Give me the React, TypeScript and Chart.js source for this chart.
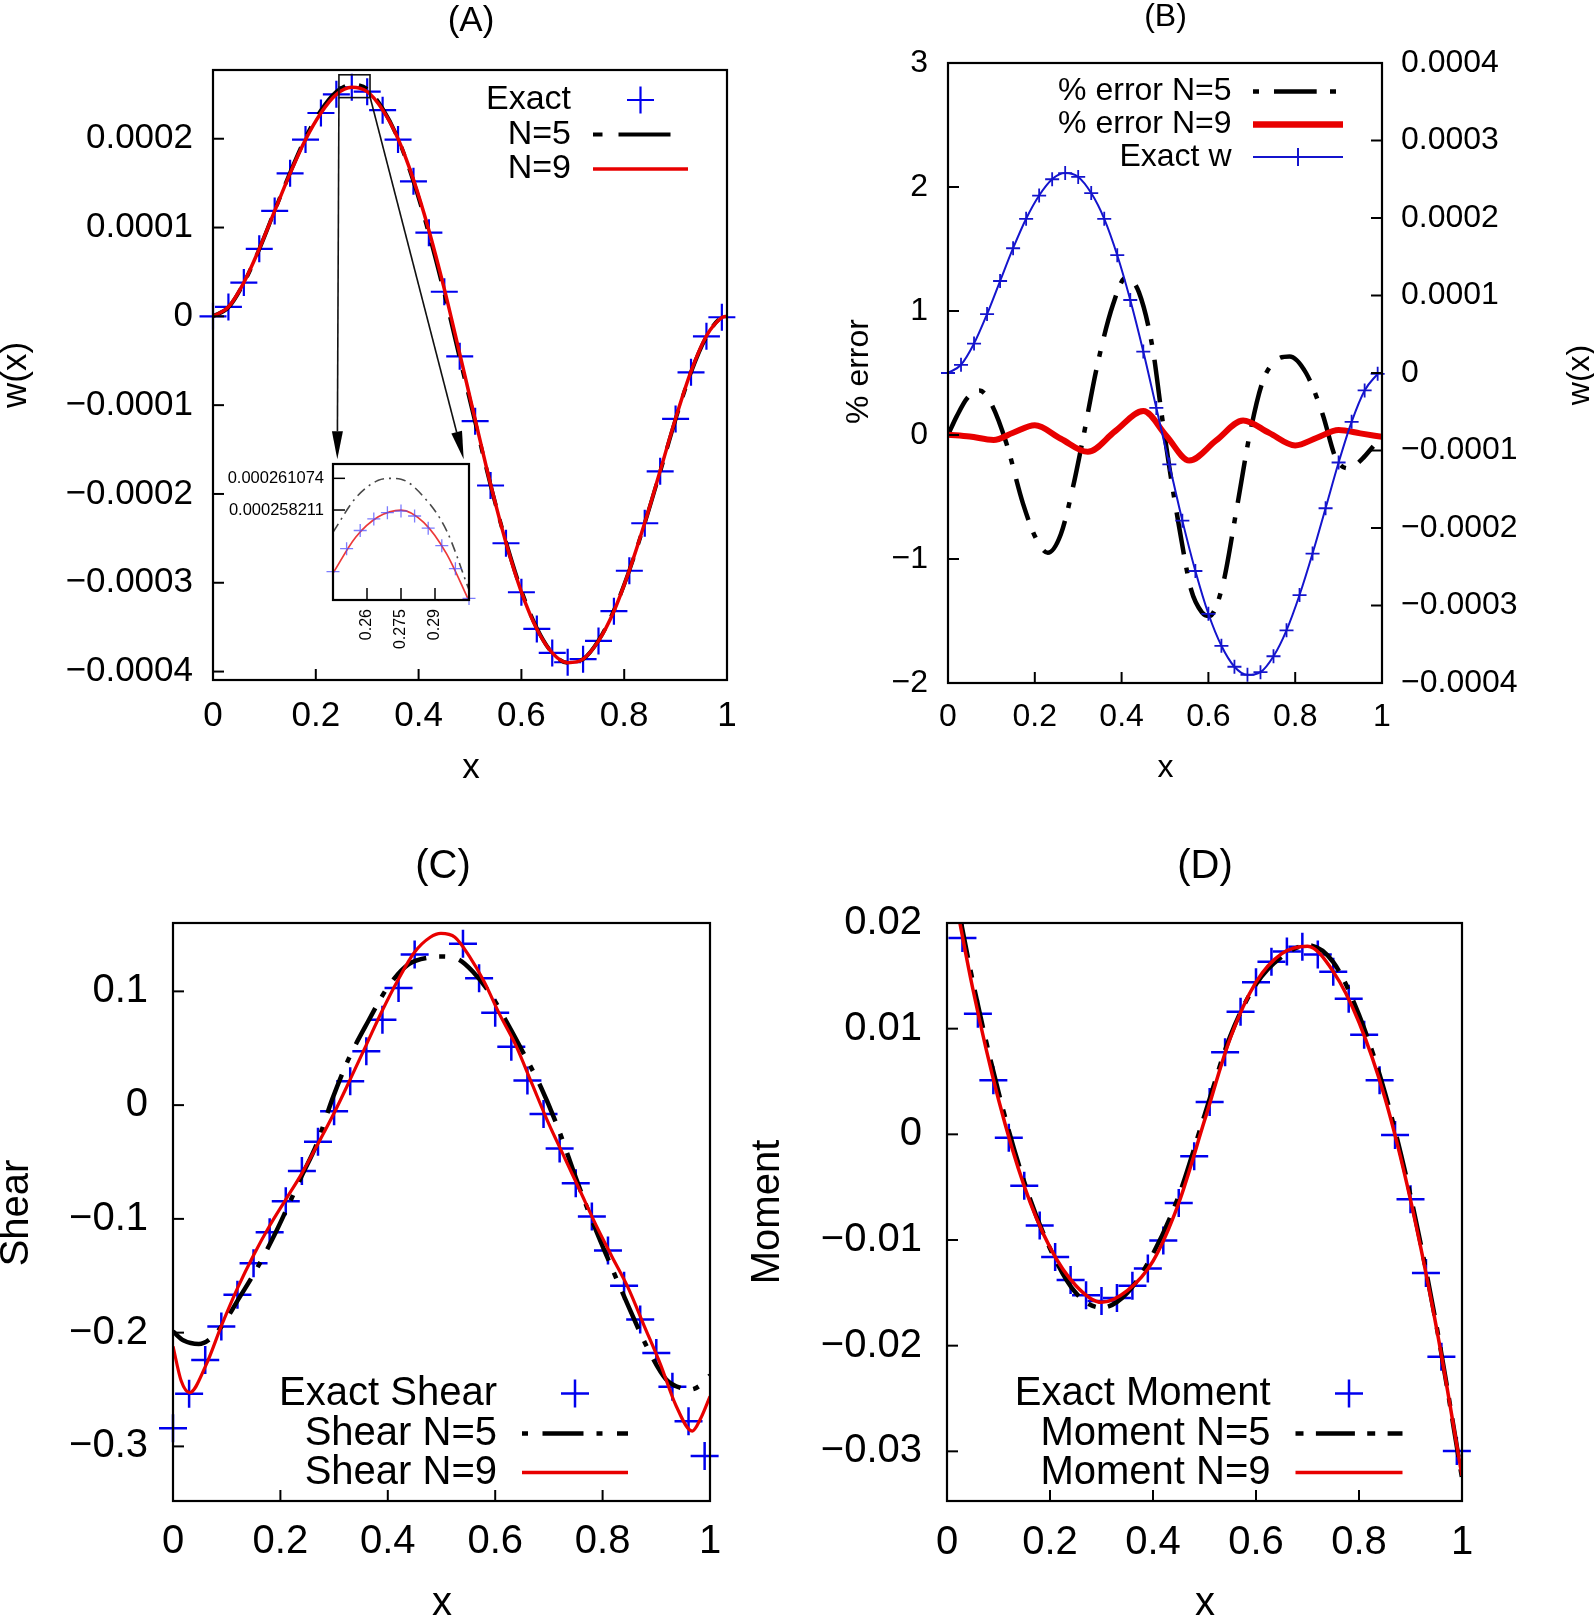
import React, { useEffect, useRef } from "react";
import { Chart, registerables } from "chart.js";

Chart.register(...registerables);

const FONT = "'Liberation Sans', Arial, Helvetica, sans-serif";
const RED = "rgb(232,0,0)";
const BLUE = "rgb(0,0,238)";
const BLUE_LINE = "rgb(20,20,205)";
const BLACK = "#000000";

/* ===================== data ===================== */
// sample points of the exact solutions
const xExact = [0, 0.03, 0.06, 0.09, 0.12, 0.15, 0.18, 0.21, 0.24, 0.27, 0.3, 0.33, 0.36, 0.39, 0.42, 0.45, 0.48, 0.51, 0.54, 0.57, 0.6, 0.63, 0.66, 0.69, 0.72, 0.75, 0.78, 0.81, 0.84, 0.87, 0.9, 0.93, 0.96, 0.99];
const wExact = [0, 1.06e-5, 3.8e-5, 7.6e-5, 1.187e-4, 1.61e-4, 1.99e-4, 2.29e-4, 2.5e-4, 2.58e-4, 2.53e-4, 2.322e-4, 1.99e-4, 1.52e-4, 9.42e-5, 2.77e-5, -4.5e-5, -1.18e-4, -1.905e-4, -2.555e-4, -3.107e-4, -3.52e-4, -3.79e-4, -3.895e-4, -3.86e-4, -3.655e-4, -3.32e-4, -2.865e-4, -2.33e-4, -1.745e-4, -1.155e-4, -6.3e-5, -2.25e-5, -1e-6];

// panel A curves
const xCurveA = [0, 0.03, 0.06, 0.09, 0.12, 0.15, 0.18, 0.21, 0.24, 0.27, 0.3, 0.33, 0.36, 0.39, 0.42, 0.45, 0.48, 0.51, 0.54, 0.57, 0.6, 0.63, 0.66, 0.69, 0.72, 0.75, 0.78, 0.81, 0.84, 0.87, 0.9, 0.93, 0.96, 0.99, 1];
const wN9 = [0, 1.06e-5, 3.8e-5, 7.6e-5, 1.187e-4, 1.61e-4, 1.99e-4, 2.29e-4, 2.5e-4, 2.58e-4, 2.53e-4, 2.325e-4, 2.0e-4, 1.54e-4, 9.7e-5, 3.1e-5, -4.2e-5, -1.16e-4, -1.89e-4, -2.55e-4, -3.105e-4, -3.52e-4, -3.79e-4, -3.9e-4, -3.86e-4, -3.655e-4, -3.32e-4, -2.86e-4, -2.325e-4, -1.74e-4, -1.15e-4, -6.2e-5, -2.2e-5, -1.5e-6, 0];
const wN5 = [0, 1.0e-5, 3.75e-5, 7.55e-5, 1.19e-4, 1.62e-4, 2.01e-4, 2.32e-4, 2.53e-4, 2.61e-4, 2.56e-4, 2.34e-4, 2.0e-4, 1.52e-4, 9.3e-5, 2.6e-5, -4.7e-5, -1.19e-4, -1.9e-4, -2.54e-4, -3.09e-4, -3.51e-4, -3.79e-4, -3.9e-4, -3.86e-4, -3.65e-4, -3.31e-4, -2.86e-4, -2.33e-4, -1.75e-4, -1.16e-4, -6.3e-5, -2.3e-5, -1e-6, 0];

// panel A inset (zoom on the peak)
const xInsetExact = [0.245, 0.251, 0.257, 0.263, 0.269, 0.275, 0.281, 0.287, 0.293, 0.299, 0.305];
const wInsetExact = [2.5264e-4, 2.5472e-4, 2.5636e-4, 2.5741e-4, 2.5797e-4, 2.5812e-4, 2.5767e-4, 2.5657e-4, 2.5499e-4, 2.5291e-4, 2.5022e-4];
const xInsetN9 = [0.245, 0.255, 0.265, 0.275, 0.285, 0.295, 0.305];
const wInsetN9 = [2.525e-4, 2.5575e-4, 2.576e-4, 2.5821e-4, 2.571e-4, 2.543e-4, 2.5e-4];
const xInsetN5 = [0.245, 0.255, 0.265, 0.2705, 0.275, 0.285, 0.295, 0.305];
const wInsetN5 = [2.562e-4, 2.593e-4, 2.609e-4, 2.6107e-4, 2.61e-4, 2.594e-4, 2.564e-4, 2.51e-4];

// panel B: % error
const xErrN9 = [0, 0.05, 0.105, 0.15, 0.2, 0.26, 0.322, 0.385, 0.45, 0.503, 0.556, 0.618, 0.68, 0.74, 0.8, 0.85, 0.9, 0.95, 1.0];
const errN9 = [0.003, -0.012, -0.04, 0.018, 0.078, -0.03, -0.136, 0.03, 0.193, -0.006, -0.206, -0.044, 0.117, 0.017, -0.084, -0.022, 0.04, 0.013, -0.015];
const xErrN5 = [0, 0.02, 0.045, 0.073, 0.1, 0.134, 0.173, 0.205, 0.23, 0.26, 0.288, 0.311, 0.342, 0.38, 0.41, 0.44, 0.472, 0.491, 0.51, 0.533, 0.56, 0.585, 0.602, 0.633, 0.664, 0.695, 0.725, 0.755, 0.787, 0.825, 0.863, 0.894, 0.925, 0.955, 0.98];
const errN5 = [0.0, 0.15, 0.3, 0.358, 0.25, -0.06, -0.555, -0.85, -0.95, -0.8, -0.42, -0.03, 0.53, 1.05, 1.27, 1.15, 0.69, 0.2, -0.26, -0.75, -1.245, -1.43, -1.46, -1.21, -0.62, 0.0, 0.43, 0.6, 0.634, 0.5, 0.17, -0.19, -0.27, -0.19, -0.09];

// panel C: shear
const shearExact = [-0.284, -0.2537, -0.224, -0.1946, -0.1666, -0.1389, -0.1118, -0.0845, -0.0578, -0.0321, -0.0054, 0.0209, 0.0473, 0.075, 0.103, 0.1324, null, null, 0.1419, 0.1115, 0.0811, 0.0514, 0.0216, -0.0078, -0.0382, -0.0686, -0.098, -0.1277, -0.1588, -0.1885, -0.2179, -0.2476, -0.278, -0.3084];
const xShearN9 = [0, 0.015, 0.031, 0.061, 0.091, 0.121, 0.151, 0.18, 0.21, 0.24, 0.27, 0.3, 0.33, 0.36, 0.39, 0.419, 0.449, 0.479, 0.499, 0.525, 0.552, 0.579, 0.608, 0.638, 0.668, 0.698, 0.728, 0.758, 0.788, 0.817, 0.847, 0.877, 0.907, 0.937, 0.967, 0.983, 1.0];
const shearN9 = [-0.212, -0.242, -0.2527, -0.229, -0.193, -0.16, -0.131, -0.106, -0.083, -0.06, -0.034, -0.007, 0.0226, 0.053, 0.0834, 0.11, 0.134, 0.1476, 0.151, 0.1476, 0.1307, 0.1088, 0.08, 0.053, 0.0193, -0.0145, -0.045, -0.0753, -0.1057, -0.1328, -0.16, -0.1936, -0.227, -0.2645, -0.2865, -0.275, -0.256];
const xShearN5 = [0, 0.02, 0.048, 0.081, 0.127, 0.157, 0.187, 0.214, 0.24, 0.267, 0.297, 0.326, 0.363, 0.4, 0.439, 0.479, 0.499, 0.532, 0.559, 0.592, 0.625, 0.652, 0.685, 0.718, 0.751, 0.784, 0.817, 0.851, 0.884, 0.918, 0.95, 0.963, 0.983, 1.0];
const shearN5 = [-0.199, -0.207, -0.21, -0.2, -0.1666, -0.143, -0.116, -0.089, -0.062, -0.035, 0.0057, 0.0395, 0.0733, 0.1037, 0.124, 0.13, 0.1307, 0.128, 0.117, 0.097, 0.07, 0.0463, 0.0159, -0.0213, -0.065, -0.1057, -0.1429, -0.18, -0.2139, -0.2409, -0.2493, -0.25, -0.246, -0.2375];

// panel D: moment
const xMomentExact = [0.03, 0.06, 0.09, 0.12, 0.15, 0.18, 0.21, 0.24, 0.27, 0.3, 0.33, 0.36, 0.39, 0.42, 0.45, 0.48, 0.51, 0.54, 0.57, 0.6, 0.63, 0.66, 0.69, 0.72, 0.75, 0.78, 0.81, 0.84, 0.87, 0.9, 0.93, 0.96, 0.99];
const momentExact = [0.01858, 0.01142, 0.00513, -0.00033, -0.00487, -0.00862, -0.0116, -0.01378, -0.01524, -0.01578, -0.01549, -0.01433, -0.01269, -0.01004, -0.00651, -0.00207, 0.00305, 0.00778, 0.0116, 0.0144, 0.01633, 0.01731, 0.01775, 0.01702, 0.01538, 0.01284, 0.00942, 0.00513, -0.00007, -0.00615, -0.01313, -0.02105, -0.02996];
const xMomentCurve = [0, 0.05, 0.1, 0.15, 0.2, 0.25, 0.3, 0.35, 0.4, 0.45, 0.5, 0.55, 0.6, 0.65, 0.7, 0.75, 0.8, 0.85, 0.9, 0.95, 1.0];
const momentN9 = [0.0265, 0.0138, 0.0033, -0.0049, -0.0107, -0.0143, -0.0159, -0.0148, -0.012, -0.0065, 0.0013, 0.0091, 0.0144, 0.0171, 0.0178, 0.0154, 0.0106, 0.0035, -0.0062, -0.0182, -0.0323];
const momentN5 = [0.027, 0.0145, 0.004, -0.0045, -0.0108, -0.015, -0.0164, -0.015, -0.0113, -0.0058, 0.0018, 0.0093, 0.0142, 0.0168, 0.0179, 0.0163, 0.0113, 0.004, -0.0058, -0.018, -0.0325];

/* ===================== ticks ===================== */
const unitTicks = [0, 0.2, 0.4, 0.6, 0.8, 1];
const unitTickLabels = ["0", "0.2", "0.4", "0.6", "0.8", "1"];
const wTicksA = [-4e-4, -3e-4, -2e-4, -1e-4, 0, 1e-4, 2e-4];
const wTickLabelsA = ["\u22120.0004", "\u22120.0003", "\u22120.0002", "\u22120.0001", "0", "0.0001", "0.0002"];
const errTicks = [-2, -1, 0, 1, 2, 3];
const errTickLabels = ["\u22122", "\u22121", "0", "1", "2", "3"];
const wTicksB = [-4e-4, -3e-4, -2e-4, -1e-4, 0, 1e-4, 2e-4, 3e-4, 4e-4];
const wTickLabelsB = ["\u22120.0004", "\u22120.0003", "\u22120.0002", "\u22120.0001", "0", "0.0001", "0.0002", "0.0003", "0.0004"];
const shearTicks = [-0.3, -0.2, -0.1, 0, 0.1];
const shearTickLabels = ["\u22120.3", "\u22120.2", "\u22120.1", "0", "0.1"];
const momentTicks = [-0.03, -0.02, -0.01, 0, 0.01, 0.02];
const momentTickLabels = ["\u22120.03", "\u22120.02", "\u22120.01", "0", "0.01", "0.02"];
const insetXTicks = [0.26, 0.275, 0.29];
const insetXTickLabels = ["0.26", "0.275", "0.29"];
const insetYTicks = [2.58211e-4, 2.61074e-4];
const insetYTickLabels = ["0.000258211", "0.000261074"];

// zoom marker on panel A (data units)
const zoomRectA = { x0: 0.245, x1: 0.3055, y0: 2.463e-4, y1: 2.72e-4 };
const zoomArrowsA = [
  { x0: 0.245, y0: 2.463e-4, x1: 0.2418, y1: -1.61e-4 },
  { x0: 0.3047, y0: 2.49e-4, x1: 0.4877, y1: -1.61e-4 },
];

/* ===================== layout ===================== */
type Box = { l: number; t: number; r: number; b: number };
type Panel = { left: number; top: number; w: number; h: number; area: Box };

const PANEL_A: Panel = { left: 0, top: 0, w: 800, h: 800, area: { l: 213, t: 70, r: 727, b: 680 } };
const PANEL_INSET: Panel = { left: 215, top: 439, w: 279, h: 228, area: { l: 333, t: 464, r: 469, b: 600 } };
const PANEL_B: Panel = { left: 800, top: 0, w: 794, h: 800, area: { l: 948, t: 63, r: 1382, b: 683 } };
const PANEL_C: Panel = { left: 0, top: 800, w: 745, h: 815, area: { l: 173, t: 923, r: 710, b: 1501 } };
const PANEL_D: Panel = { left: 745, top: 800, w: 849, h: 815, area: { l: 947, t: 923, r: 1462, b: 1501 } };

/* ===================== helpers ===================== */
function pts(xs: number[], ys: (number | null)[]) {
  return xs.map((x, i) => ({ x, y: ys[i] }));
}

function curve(data: any[], color: string, width: number, dash: number[] = [], yAxisID = "y") {
  return {
    data, showLine: true, borderColor: color, backgroundColor: color, borderWidth: width, borderDash: dash,
    pointRadius: 0, pointHoverRadius: 0, cubicInterpolationMode: "monotone", yAxisID, fill: false,
  };
}

function crosses(data: any[], color: string, r: number, w: number, yAxisID = "y", lineWidth = 0) {
  return {
    data, showLine: lineWidth > 0, borderColor: color, backgroundColor: color, borderWidth: lineWidth,
    pointStyle: "cross", pointRadius: r, pointHoverRadius: r, pointBorderColor: color, pointBorderWidth: w,
    pointBackgroundColor: color, cubicInterpolationMode: "monotone", clip: false, yAxisID,
  };
}

function linScale(o: {
  axis: "x" | "y"; position: "left" | "right" | "bottom"; min: number; max: number;
  ticks: number[]; labels: string[]; size: number; pad: number; thickness: number; rotation?: number;
}) {
  return {
    type: "linear", axis: o.axis, position: o.position, min: o.min, max: o.max, bounds: "data",
    grid: { display: false, drawTicks: false, drawOnChartArea: false },
    border: { display: false },
    afterBuildTicks: (s: any) => { s.ticks = o.ticks.map((v) => ({ value: v })); },
    afterFit: (s: any) => { if (o.axis === "x") s.height = o.thickness; else s.width = o.thickness; },
    ticks: {
      autoSkip: false, padding: o.pad, color: "#000",
      font: { family: FONT, size: o.size, lineHeight: 1.2 },
      minRotation: o.rotation ?? 0, maxRotation: o.rotation ?? 0,
      callback: (_v: any, i: number) => o.labels[i],
    },
  };
}

type TextItem = { text: string; x: number; y: number; size: number; rotate?: boolean };
type LegendRow = {
  label: string; y: number;
  line?: { color: string; width: number; dash?: number[]; offset?: number; x1?: number };
  cross?: { color: string; r: number; w: number };
};
type Legend = { textRight: number; x0: number; x1: number; size: number; rows: LegendRow[] };
type TickSet = { scale: string; side: "left" | "right" | "bottom"; values: number[] };
type Decor = {
  panel: Panel; ticks: TickSet[]; tickLen: number; tickWidth: number; boxWidth: number;
  texts: TextItem[]; legend?: Legend; extra?: (chart: any, ctx: CanvasRenderingContext2D) => void;
};

function drawCross(ctx: CanvasRenderingContext2D, x: number, y: number, r: number) {
  ctx.beginPath();
  ctx.moveTo(x - r, y); ctx.lineTo(x + r, y);
  ctx.moveTo(x, y - r); ctx.lineTo(x, y + r);
  ctx.stroke();
}

function decorPlugin(d: Decor) {
  return {
    id: "gnuplotDecor",
    afterDatasetsDraw(chart: any) {
      const ctx = chart.ctx as CanvasRenderingContext2D;
      const a = chart.chartArea;
      ctx.save();
      ctx.setLineDash([]);
      ctx.strokeStyle = "#000";
      ctx.lineWidth = d.tickWidth;
      for (const ts of d.ticks) {
        const s = chart.scales[ts.scale];
        for (const v of ts.values) {
          const p = s.getPixelForValue(v);
          ctx.beginPath();
          if (ts.side === "left") { ctx.moveTo(a.left, p); ctx.lineTo(a.left + d.tickLen, p); }
          else if (ts.side === "right") { ctx.moveTo(a.right, p); ctx.lineTo(a.right - d.tickLen, p); }
          else { ctx.moveTo(p, a.bottom); ctx.lineTo(p, a.bottom - d.tickLen); }
          ctx.stroke();
        }
      }
      ctx.lineWidth = d.boxWidth;
      ctx.strokeRect(a.left, a.top, a.right - a.left, a.bottom - a.top);
      if (d.extra) d.extra(chart, ctx);
      ctx.restore();
    },
    afterDraw(chart: any) {
      const ctx = chart.ctx as CanvasRenderingContext2D;
      const ox = d.panel.left, oy = d.panel.top;
      ctx.save();
      ctx.fillStyle = "#000";
      for (const t of d.texts) {
        ctx.save();
        ctx.font = `${t.size}px ${FONT}`;
        ctx.textAlign = "center";
        ctx.textBaseline = "middle";
        ctx.translate(t.x - ox, t.y - oy);
        if (t.rotate) ctx.rotate(-Math.PI / 2);
        ctx.fillText(t.text, 0, 0);
        ctx.restore();
      }
      const lg = d.legend;
      if (lg) {
        for (const row of lg.rows) {
          const y = row.y - oy;
          ctx.font = `${lg.size}px ${FONT}`;
          ctx.textAlign = "right";
          ctx.textBaseline = "middle";
          ctx.fillStyle = "#000";
          ctx.fillText(row.label, lg.textRight - ox, y);
          if (row.line) {
            ctx.save();
            ctx.strokeStyle = row.line.color;
            ctx.lineWidth = row.line.width;
            ctx.lineCap = "butt";
            ctx.setLineDash(row.line.dash ?? []);
            ctx.lineDashOffset = row.line.offset ?? 0;
            ctx.beginPath();
            ctx.moveTo(lg.x0 - ox, y);
            ctx.lineTo((row.line.x1 ?? lg.x1) - ox, y);
            ctx.stroke();
            ctx.restore();
          }
          if (row.cross) {
            ctx.save();
            ctx.setLineDash([]);
            ctx.strokeStyle = row.cross.color;
            ctx.lineWidth = row.cross.w;
            drawCross(ctx, (lg.x0 + lg.x1) / 2 - ox, y, row.cross.r);
            ctx.restore();
          }
        }
      }
      ctx.restore();
    },
  };
}

function drawZoomMarks(chart: any, ctx: CanvasRenderingContext2D) {
  const sx = chart.scales.x, sy = chart.scales.y;
  const X = (v: number) => sx.getPixelForValue(v);
  const Y = (v: number) => sy.getPixelForValue(v);
  ctx.strokeStyle = "#111";
  ctx.fillStyle = "#000";
  ctx.lineWidth = 1.6;
  ctx.strokeRect(X(zoomRectA.x0), Y(zoomRectA.y1), X(zoomRectA.x1) - X(zoomRectA.x0), Y(zoomRectA.y0) - Y(zoomRectA.y1));
  for (const ar of zoomArrowsA) {
    const x0 = X(ar.x0), y0 = Y(ar.y0), x1 = X(ar.x1), y1 = Y(ar.y1);
    const dx = x1 - x0, dy = y1 - y0;
    const L = Math.hypot(dx, dy);
    const ux = dx / L, uy = dy / L;
    const hl = 28, hw = 5.5;
    const bx = x1 - ux * hl, by = y1 - uy * hl;
    ctx.lineWidth = 1.6;
    ctx.beginPath(); ctx.moveTo(x0, y0); ctx.lineTo(bx, by); ctx.stroke();
    ctx.beginPath();
    ctx.moveTo(x1, y1);
    ctx.lineTo(bx - uy * hw, by + ux * hw);
    ctx.lineTo(bx + uy * hw, by - ux * hw);
    ctx.closePath();
    ctx.fill();
  }
}

function makeChart(canvas: HTMLCanvasElement, panel: Panel, datasets: any[], scales: any, decor: Decor, twoY = false) {
  const a = panel.area;
  return new Chart(canvas, {
    type: "scatter",
    data: { datasets },
    options: {
      responsive: false,
      animation: false,
      events: [],
      layout: { padding: { left: 0, top: a.t - panel.top, right: twoY ? 0 : panel.left + panel.w - a.r, bottom: 0 } },
      plugins: { legend: { display: false }, tooltip: { enabled: false }, title: { display: false } },
      scales,
    },
    plugins: [decorPlugin(decor)],
  } as any);
}

const xThick = (p: Panel) => p.top + p.h - p.area.b;
const yThick = (p: Panel) => p.area.l - p.left;
const y2Thick = (p: Panel) => p.left + p.w - p.area.r;

/* ===================== component ===================== */
export default function App() {
  const refA = useRef<HTMLCanvasElement>(null);
  const refInset = useRef<HTMLCanvasElement>(null);
  const refB = useRef<HTMLCanvasElement>(null);
  const refC = useRef<HTMLCanvasElement>(null);
  const refD = useRef<HTMLCanvasElement>(null);

  useEffect(() => {
    const charts: Chart[] = [];

    // ---------- Panel A ----------
    charts.push(makeChart(
      refA.current!, PANEL_A,
      [
        curve(pts(xCurveA, wN9), RED, 3.5),
        curve(pts(xCurveA, wN5), BLACK, 4, [40, 14, 9, 14]),
        crosses(pts(xExact, wExact), BLUE, 13.5, 2.2),
      ],
      {
        x: linScale({ axis: "x", position: "bottom", min: 0, max: 1, ticks: unitTicks, labels: unitTickLabels, size: 35, pad: 15, thickness: xThick(PANEL_A) }),
        y: linScale({ axis: "y", position: "left", min: -4.095e-4, max: 2.774e-4, ticks: wTicksA, labels: wTickLabelsA, size: 35, pad: 20, thickness: yThick(PANEL_A) }),
      },
      {
        panel: PANEL_A, tickLen: 11, tickWidth: 2, boxWidth: 2.2,
        ticks: [{ scale: "x", side: "bottom", values: unitTicks }, { scale: "y", side: "left", values: wTicksA }],
        texts: [
          { text: "(A)", x: 471, y: 21, size: 35 },
          { text: "w(x)", x: 16, y: 375, size: 35, rotate: true },
          { text: "x", x: 471, y: 768, size: 35 },
        ],
        legend: {
          textRight: 571, x0: 593, x1: 688, size: 34,
          rows: [
            { label: "Exact", y: 100, cross: { color: BLUE, r: 13.5, w: 2.2 } },
            { label: "N=5", y: 134.5, line: { color: BLACK, width: 4, dash: [52, 16, 9.5, 16], offset: 68, x1: 686 } },
            { label: "N=9", y: 169, line: { color: RED, width: 3.5 } },
          ],
        },
        extra: drawZoomMarks,
      },
    ));

    // ---------- Inset of panel A ----------
    charts.push(makeChart(
      refInset.current!, PANEL_INSET,
      [
        crosses(pts(xInsetExact, wInsetExact), "rgba(80,80,255,0.75)", 6.5, 1.3),
        curve(pts(xInsetN9, wInsetN9), "rgba(235,45,45,0.95)", 1.7),
        curve(pts(xInsetN5, wInsetN5), "rgba(40,40,40,0.85)", 1.6, [10, 5, 2, 5]),
      ],
      {
        x: linScale({ axis: "x", position: "bottom", min: 0.245, max: 0.305, ticks: insetXTicks, labels: insetXTickLabels, size: 16, pad: 9, thickness: xThick(PANEL_INSET), rotation: 90 }),
        y: linScale({ axis: "y", position: "left", min: 2.5008e-4, max: 2.6237e-4, ticks: insetYTicks, labels: insetYTickLabels, size: 16.5, pad: 9, thickness: yThick(PANEL_INSET) }),
      },
      {
        panel: PANEL_INSET, tickLen: 12, tickWidth: 1.5, boxWidth: 2.2,
        ticks: [{ scale: "x", side: "bottom", values: insetXTicks }, { scale: "y", side: "left", values: insetYTicks }],
        texts: [],
      },
    ));

    // ---------- Panel B ----------
    charts.push(makeChart(
      refB.current!, PANEL_B,
      [
        crosses(pts(xExact, wExact), BLUE_LINE, 7, 1.8, "y2", 2),
        curve(pts(xErrN9, errN9), RED, 6),
        curve(pts(xErrN5, errN5), BLACK, 4.5, [42.7, 13.3, 6, 15]),
      ],
      {
        x: linScale({ axis: "x", position: "bottom", min: 0, max: 1, ticks: unitTicks, labels: unitTickLabels, size: 32, pad: 14.5, thickness: xThick(PANEL_B) }),
        y: linScale({ axis: "y", position: "left", min: -2, max: 3, ticks: errTicks, labels: errTickLabels, size: 32, pad: 20, thickness: yThick(PANEL_B) }),
        y2: linScale({ axis: "y", position: "right", min: -4e-4, max: 4e-4, ticks: wTicksB, labels: wTickLabelsB, size: 32, pad: 19, thickness: y2Thick(PANEL_B) }),
      },
      {
        panel: PANEL_B, tickLen: 11, tickWidth: 2, boxWidth: 2.2,
        ticks: [
          { scale: "x", side: "bottom", values: unitTicks },
          { scale: "y", side: "left", values: errTicks },
          { scale: "y2", side: "right", values: wTicksB },
        ],
        texts: [
          { text: "(B)", x: 1165.5, y: 17, size: 32 },
          { text: "% error", x: 859, y: 371.5, size: 32, rotate: true },
          { text: "w(x)", x: 1580, y: 375, size: 32, rotate: true },
          { text: "x", x: 1165.5, y: 768, size: 32 },
        ],
        legend: {
          textRight: 1231.5, x0: 1253, x1: 1343, size: 32,
          rows: [
            { label: "% error N=5", y: 91.5, line: { color: BLACK, width: 4.5, dash: [42.7, 13.3, 6, 15], offset: 56 } },
            { label: "% error N=9", y: 124.5, line: { color: RED, width: 6.5 } },
            { label: "Exact w", y: 157, line: { color: BLUE_LINE, width: 2 }, cross: { color: BLUE_LINE, r: 9, w: 2 } },
          ],
        },
      },
      true,
    ));

    // ---------- Panel C ----------
    charts.push(makeChart(
      refC.current!, PANEL_C,
      [
        curve(pts(xShearN9, shearN9), RED, 3.2),
        curve(pts(xShearN5, shearN5), BLACK, 4.5, [41, 13, 6, 14.5]),
        crosses(pts(xExact, shearExact), BLUE, 14, 2.5),
      ],
      {
        x: linScale({ axis: "x", position: "bottom", min: 0, max: 1, ticks: unitTicks, labels: unitTickLabels, size: 40, pad: 16.5, thickness: xThick(PANEL_C) }),
        y: linScale({ axis: "y", position: "left", min: -0.348, max: 0.1601, ticks: shearTicks, labels: shearTickLabels, size: 40, pad: 25, thickness: yThick(PANEL_C) }),
      },
      {
        panel: PANEL_C, tickLen: 11, tickWidth: 2, boxWidth: 2.2,
        ticks: [{ scale: "x", side: "bottom", values: unitTicks }, { scale: "y", side: "left", values: shearTicks }],
        texts: [
          { text: "(C)", x: 443, y: 867, size: 40 },
          { text: "Shear", x: 16.5, y: 1213, size: 40, rotate: true },
          { text: "x", x: 442, y: 1604, size: 40 },
        ],
        legend: {
          textRight: 497, x0: 522, x1: 628, size: 40,
          rows: [
            { label: "Exact Shear", y: 1393.5, cross: { color: BLUE, r: 14, w: 2.5 } },
            { label: "Shear N=5", y: 1433.5, line: { color: BLACK, width: 4.5, dash: [41, 13, 6, 14.5], offset: 54 } },
            { label: "Shear N=9", y: 1472.5, line: { color: RED, width: 3.5 } },
          ],
        },
      },
    ));

    // ---------- Panel D ----------
    charts.push(makeChart(
      refD.current!, PANEL_D,
      [
        curve(pts(xMomentCurve, momentN9), RED, 3.5),
        curve(pts(xMomentCurve, momentN5), BLACK, 4.5, [39, 12.3, 8, 12.4]),
        crosses(pts(xMomentExact, momentExact), BLUE, 14, 2.5),
      ],
      {
        x: linScale({ axis: "x", position: "bottom", min: 0, max: 1, ticks: unitTicks, labels: unitTickLabels, size: 40, pad: 17.5, thickness: xThick(PANEL_D) }),
        y: linScale({ axis: "y", position: "left", min: -0.0347, max: 0.02, ticks: momentTicks, labels: momentTickLabels, size: 40, pad: 25, thickness: yThick(PANEL_D) }),
      },
      {
        panel: PANEL_D, tickLen: 11, tickWidth: 2, boxWidth: 2.2,
        ticks: [{ scale: "x", side: "bottom", values: unitTicks }, { scale: "y", side: "left", values: momentTicks }],
        texts: [
          { text: "(D)", x: 1205, y: 867, size: 40 },
          { text: "Moment", x: 768, y: 1212, size: 40, rotate: true },
          { text: "x", x: 1205, y: 1604, size: 40 },
        ],
        legend: {
          textRight: 1270.5, x0: 1295.5, x1: 1402.5, size: 40,
          rows: [
            { label: "Exact Moment", y: 1393.5, cross: { color: BLUE, r: 14, w: 2.5 } },
            { label: "Moment N=5", y: 1433.5, line: { color: BLACK, width: 4.5, dash: [39, 12.3, 8, 12.4], offset: 51.3 } },
            { label: "Moment N=9", y: 1472.5, line: { color: RED, width: 3.5 } },
          ],
        },
      },
    ));

    return () => { charts.forEach((c) => c.destroy()); };
  }, []);

  const cv = (p: Panel) => ({ position: "absolute" as const, left: p.left, top: p.top, width: p.w, height: p.h });

  return (
    <div style={{ position: "absolute", left: 0, top: 0, width: 1594, height: 1615, background: "#ffffff", overflow: "hidden" }}>
      <canvas ref={refA} width={PANEL_A.w} height={PANEL_A.h} style={cv(PANEL_A)} />
      <canvas ref={refB} width={PANEL_B.w} height={PANEL_B.h} style={cv(PANEL_B)} />
      <canvas ref={refC} width={PANEL_C.w} height={PANEL_C.h} style={cv(PANEL_C)} />
      <canvas ref={refD} width={PANEL_D.w} height={PANEL_D.h} style={cv(PANEL_D)} />
      <canvas ref={refInset} width={PANEL_INSET.w} height={PANEL_INSET.h} style={cv(PANEL_INSET)} />
    </div>
  );
}
